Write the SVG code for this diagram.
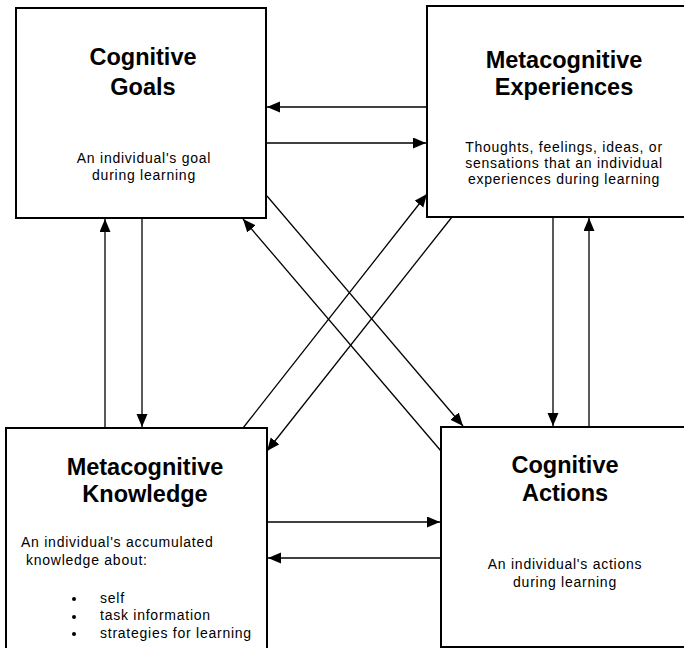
<svg xmlns="http://www.w3.org/2000/svg" width="684" height="648" viewBox="0 0 684 648">
<defs>
<style>
.box{fill:#fff;stroke:#000;stroke-width:2}
.t{font-family:"Liberation Sans",Arial,sans-serif;font-weight:bold;font-size:23.5px;text-anchor:middle;fill:#000}
.b{font-family:"Liberation Sans",Arial,sans-serif;font-size:14px;letter-spacing:0.75px;text-anchor:middle;fill:#000}
.bl{font-family:"Liberation Sans",Arial,sans-serif;font-size:14px;letter-spacing:0.75px;fill:#000}
.c{fill:none;stroke:#000;stroke-width:1.3;marker-end:url(#ah)}
</style>
<marker id="ah" markerUnits="userSpaceOnUse" markerWidth="14" markerHeight="12" refX="13" refY="5.5" orient="auto">
<path d="M0,0 L13,5.5 L0,11 z" fill="#000"/>
</marker>
</defs>
<rect width="684" height="648" fill="#fff"/>
<g id="cognitive-goals">
<rect class="box" x="16" y="8" width="250" height="210"/>
<text class="t" x="143" y="65">Cognitive</text>
<text class="t" x="143" y="95">Goals</text>
<text class="b" x="144" y="163">An individual's goal</text>
<text class="b" x="144" y="180">during learning</text>
</g>
<g id="metacognitive-experiences">
<rect class="box" x="427" y="6" width="262" height="211"/>
<text class="t" x="564" y="68">Metacognitive</text>
<text class="t" x="564" y="95">Experiences</text>
<text class="b" x="564" y="152">Thoughts, feelings, ideas, or</text>
<text class="b" x="564" y="168">sensations that an individual</text>
<text class="b" x="564" y="184">experiences during learning</text>
</g>
<g id="metacognitive-knowledge">
<rect class="box" x="6" y="428" width="261" height="226"/>
<text class="t" x="145" y="475">Metacognitive</text>
<text class="t" x="145" y="502">Knowledge</text>
<text class="bl" x="21" y="547">An individual's accumulated</text>
<text class="bl" x="26" y="565">knowledge about:</text>
<circle cx="74" cy="599" r="2"/>
<circle cx="74" cy="617" r="2"/>
<circle cx="74" cy="634" r="2"/>
<text class="bl" x="100" y="603">self</text>
<text class="bl" x="100" y="620">task information</text>
<text class="bl" x="100" y="638">strategies for learning</text>
</g>
<g id="cognitive-actions">
<rect class="box" x="441" y="427" width="250" height="220"/>
<text class="t" x="565" y="473">Cognitive</text>
<text class="t" x="565" y="501">Actions</text>
<text class="b" x="565" y="569">An individual's actions</text>
<text class="b" x="565" y="587">during learning</text>
</g>
<g id="connectors">
<line class="c" x1="427" y1="107" x2="267" y2="107"/>
<line class="c" x1="266" y1="143" x2="426" y2="143"/>
<line class="c" x1="267" y1="522" x2="440" y2="522"/>
<line class="c" x1="441" y1="558" x2="268" y2="558"/>
<line class="c" x1="105" y1="428" x2="105" y2="219"/>
<line class="c" x1="142" y1="218" x2="142" y2="427"/>
<line class="c" x1="553" y1="217" x2="553" y2="426"/>
<line class="c" x1="589" y1="427" x2="589" y2="218"/>
<line class="c" x1="267" y1="196" x2="463" y2="426"/>
<line class="c" x1="441" y1="451" x2="243" y2="219"/>
<line class="c" x1="243" y1="428" x2="427" y2="194"/>
<line class="c" x1="452" y1="217" x2="267" y2="451"/>
</g>
</svg>
